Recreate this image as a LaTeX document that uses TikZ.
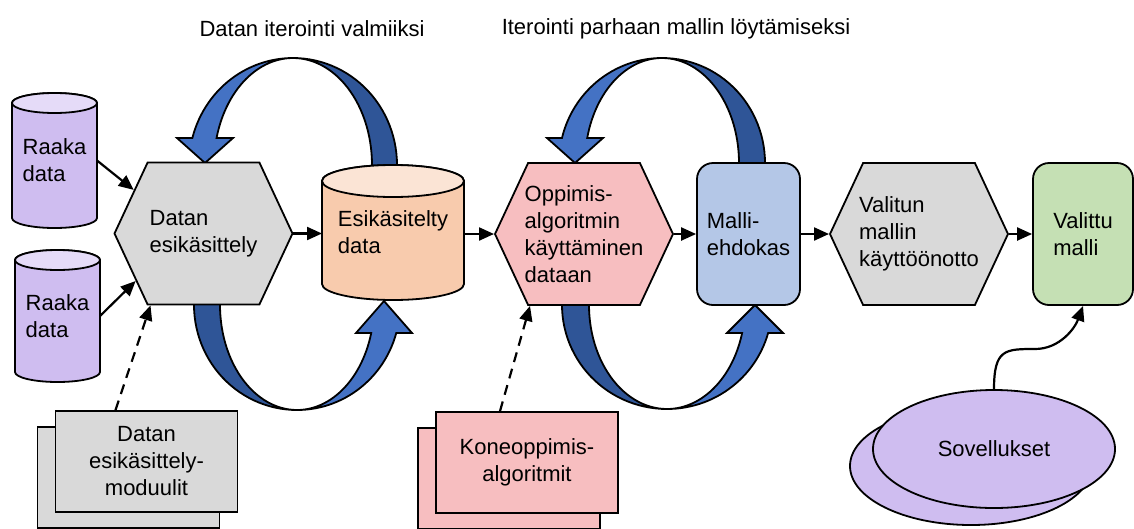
\documentclass[tikz,border=0pt]{standalone}
\usepackage{fontspec}
\setmainfont{Liberation Sans}
\usetikzlibrary{shapes.geometric,shapes.symbols,shadows,arrows.meta,backgrounds}
\definecolor{rawfill}{RGB}{207,189,240}
\definecolor{rawtop}{RGB}{229,219,248}
\definecolor{prepfill}{RGB}{248,203,173}
\definecolor{preptop}{RGB}{251,228,213}
\definecolor{stepgray}{RGB}{217,217,217}
\definecolor{learnpink}{RGB}{247,190,192}
\definecolor{candblue}{RGB}{180,199,231}
\definecolor{chosengreen}{RGB}{197,224,180}
\definecolor{loopblue}{RGB}{68,114,196}
\definecolor{loopdark}{RGB}{47,85,151}
\tikzset{
  base/.style={draw=black,line width=1.8pt,font=\fontsize{22}{27}\selectfont,align=left},
  store/.style={rectangle,outer sep=0pt,font=\fontsize{22}{27}\selectfont,align=left},
  hexa/.style={base,signal,signal to=east and west,signal pointer angle=130,
               inner xsep=-15pt,minimum width=178pt,minimum height=142pt,fill=stepgray},
  roundbox/.style={base,rectangle,rounded corners=16pt,minimum width=103pt,minimum height=142pt},
  stack/.style={base,rectangle,align=center,minimum width=182pt,minimum height=101pt,
                copy shadow={shadow xshift=-18pt,shadow yshift=-16pt}},
  flowarrow/.style={-{Triangle[length=15pt,width=13pt]},line width=2.2pt},
  loop/.style={draw=black,line width=1.8pt}
}
\begin{document}
\begin{tikzpicture}[x=1pt,y=-1pt]
  \useasboundingbox (0,0) rectangle (1134,528);

  \node[store] (loopa) at (312,29) {Datan iterointi valmiiksi};
  \node[store] (loopb) at (676,29) {Iterointi parhaan mallin löytämiseksi};

  % Main flow
  \node[store,minimum width=85pt,minimum height=135pt] (raw1) at (54.5,160.5) {Raaka\\data};
  \node[store,minimum width=85pt,minimum height=132pt] (raw2) at (57.5,316) {Raaka\\data};
  \node[hexa] (prep) at (203.5,233.5) {Datan\\esikäsittely};
  \node[store,minimum width=142pt,minimum height=135pt] (prepd) at (393,232.5) {Esikäsitelty\\data};
  \node[hexa,fill=learnpink] (learn) at (584,234) {Oppimis-\\algoritmin\\käyttäminen\\dataan};
  \node[roundbox,fill=candblue] (cand) at (748.5,234) {Malli-\\ehdokas};
  \node[hexa] (deploy) at (919,234) {Valitun\\mallin\\käyttöönotto};
  \node[roundbox,fill=chosengreen,minimum width=100pt] (chosen) at (1083,234) {Valittu\\malli};

  % Inputs below
  \node[stack,fill=stepgray] (mods) at (146.5,461.5) {Datan\\esikäsittely-\\moduulit};
  \node[stack,fill=learnpink] (algs) at (527,462.5) {Koneoppimis-\\algoritmit};
  \node[base,ellipse,align=center,fill=rawfill,minimum width=242pt,minimum height=118pt,
        copy shadow={shadow xshift=-23pt,shadow yshift=-17pt}] (apps) at (994,449) {Sovellukset};

  \begin{scope}[on background layer]
  % Iteration loops
  \filldraw[loop,fill=loopdark] (397,178) -- plot[domain=0:90,samples=30] ({293+104*cos(\x)},{165-107*sin(\x)})
    -- plot[domain=90:0,samples=30] ({293+79*cos(\x)},{165-107*sin(\x)}) -- (372,178) -- cycle;
  \filldraw[loop,fill=loopblue] plot[domain=90:165.4,samples=30] ({293+104*cos(\x)},{165-107*sin(\x)})
    -- (177,138) -- (205,163) -- (233,138)
    -- plot[domain=165.4:90,samples=30] ({293+79*cos(\x)},{165-107*sin(\x)}) -- cycle;
  \filldraw[loop,fill=loopdark] (194,295) -- plot[domain=180:90,samples=30] ({297+103*cos(\x)},{305+105*sin(\x)})
    -- plot[domain=90:180,samples=30] ({297+77*cos(\x)},{305+105*sin(\x)}) -- (220,295) -- cycle;
  \filldraw[loop,fill=loopblue] plot[domain=90:15.47,samples=30] ({297+103*cos(\x)},{305+105*sin(\x)})
    -- (412,333) -- (384,301) -- (356,333)
    -- plot[domain=15.47:90,samples=30] ({297+77*cos(\x)},{305+105*sin(\x)}) -- cycle;
  \filldraw[loop,fill=loopdark] (765,173) -- plot[domain=0:90,samples=30] ({662+103*cos(\x)},{163-105*sin(\x)})
    -- plot[domain=90:0,samples=30] ({662+77*cos(\x)},{163-105*sin(\x)}) -- (739,173) -- cycle;
  \filldraw[loop,fill=loopblue] plot[domain=90:166.2,samples=30] ({662+103*cos(\x)},{163-105*sin(\x)})
    -- (547,138) -- (575,163) -- (603,138)
    -- plot[domain=166.2:90,samples=30] ({662+77*cos(\x)},{163-105*sin(\x)}) -- cycle;
  \filldraw[loop,fill=loopdark] (562,295) -- plot[domain=180:90,samples=30] ({667+105*cos(\x)},{305+104*sin(\x)})
    -- plot[domain=90:180,samples=30] ({667+78*cos(\x)},{305+104*sin(\x)}) -- (589,295) -- cycle;
  \filldraw[loop,fill=loopblue] plot[domain=90:15.62,samples=30] ({667+105*cos(\x)},{305+104*sin(\x)})
    -- (783,333) -- (755,305) -- (727,333)
    -- plot[domain=15.62:90,samples=30] ({667+78*cos(\x)},{305+104*sin(\x)}) -- cycle;

  % Data stores
  \filldraw[loop,fill=rawfill] ([yshift=-10pt]raw1.north west) -- ([yshift=10pt]raw1.south west)
    arc[start angle=180,end angle=360,x radius=42.5pt,y radius=10pt] -- ([yshift=-10pt]raw1.north east)
    arc[start angle=0,end angle=180,x radius=42.5pt,y radius=10pt] -- cycle;
  \filldraw[loop,fill=rawtop] ([yshift=-10pt]raw1.north) ellipse[x radius=42.5pt,y radius=10pt];
  \filldraw[loop,fill=rawfill] ([yshift=-10pt]raw2.north west) -- ([yshift=10pt]raw2.south west)
    arc[start angle=180,end angle=360,x radius=42.5pt,y radius=10pt] -- ([yshift=-10pt]raw2.north east)
    arc[start angle=0,end angle=180,x radius=42.5pt,y radius=10pt] -- cycle;
  \filldraw[loop,fill=rawtop] ([yshift=-10pt]raw2.north) ellipse[x radius=42.5pt,y radius=10pt];
  \filldraw[loop,fill=prepfill] ([yshift=-16pt]prepd.north west) -- ([yshift=16pt]prepd.south west)
    arc[start angle=180,end angle=360,x radius=71pt,y radius=16pt] -- ([yshift=-16pt]prepd.north east)
    arc[start angle=0,end angle=180,x radius=71pt,y radius=16pt] -- cycle;
  \filldraw[loop,fill=preptop] ([yshift=-16pt]prepd.north) ellipse[x radius=71pt,y radius=16pt];
  \end{scope}

  \draw[flowarrow] (raw1.east) -- (prep.148);
  \draw[flowarrow] (raw2.east) -- (prep.215);
  \draw[flowarrow] (prep.east) -- (prep.east -| prepd.west);
  \draw[flowarrow] (learn.west -| prepd.east) -- (learn.west);
  \draw[flowarrow] (learn.east) -- (cand.west);
  \draw[flowarrow] (cand.east) -- (deploy.west);
  \draw[flowarrow] (deploy.east) -- (chosen.west);

  \draw[flowarrow,dash pattern=on 10pt off 7pt] ([xshift=-31pt]mods.north) -- ([xshift=-53pt]prep.south);
  \draw[flowarrow,dash pattern=on 10pt off 7pt] ([xshift=-27pt]algs.north) -- ([xshift=-54pt]learn.south);

  \coordinate (wave) at (1035,349);
  \draw[flowarrow] (apps.north) .. controls +(0,-40) and +(-30,0) .. (wave)
    .. controls +(25,0) and +(-8,22) .. (chosen.south);
\end{tikzpicture}
\end{document}
